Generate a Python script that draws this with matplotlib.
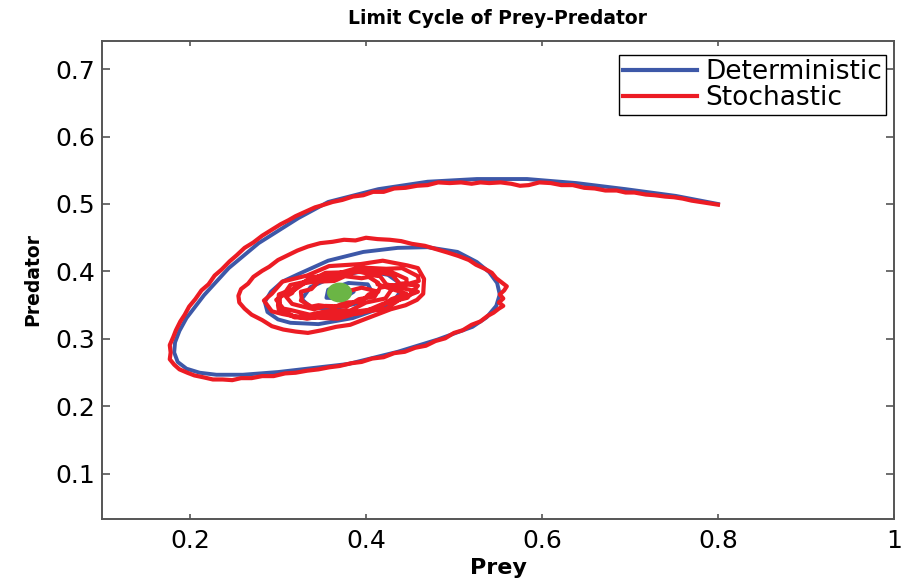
import matplotlib
matplotlib.use('Agg')
import matplotlib.pyplot as plt
from matplotlib.path import Path
from matplotlib.transforms import Affine2D

# deterministic trajectory
det_prey = [0.800, 0.752, 0.695, 0.639, 0.583, 0.526, 0.470, 0.414, 0.357, 0.323,
            0.278, 0.244, 0.216, 0.196, 0.188, 0.183, 0.182, 0.186, 0.196, 0.211,
            0.230, 0.260, 0.300, 0.340, 0.380, 0.436, 0.481, 0.521, 0.537, 0.548,
            0.552, 0.549, 0.540, 0.526, 0.504, 0.470, 0.436, 0.397, 0.357, 0.323,
            0.305, 0.292, 0.285, 0.288, 0.300, 0.314, 0.346, 0.385, 0.419, 0.432,
            0.439, 0.437, 0.425, 0.408, 0.391, 0.363, 0.337, 0.327, 0.338, 0.363,
            0.391, 0.408, 0.402, 0.380, 0.357, 0.355, 0.374, 0.386, 0.370]
det_pred = [0.500, 0.512, 0.522, 0.531, 0.537, 0.537, 0.533, 0.522, 0.503, 0.479,
            0.442, 0.405, 0.365, 0.331, 0.312, 0.295, 0.280, 0.266, 0.256, 0.250,
            0.247, 0.247, 0.251, 0.257, 0.263, 0.281, 0.299, 0.318, 0.332, 0.349,
            0.366, 0.383, 0.399, 0.414, 0.429, 0.436, 0.435, 0.429, 0.416, 0.396,
            0.385, 0.370, 0.355, 0.340, 0.329, 0.324, 0.322, 0.331, 0.347, 0.357,
            0.370, 0.384, 0.395, 0.399, 0.399, 0.392, 0.377, 0.359, 0.346, 0.345,
            0.353, 0.367, 0.381, 0.383, 0.373, 0.361, 0.360, 0.370, 0.370]

# stochastic trajectory: outer arc, then the tangle
sto_prey = [0.800, 0.790, 0.780, 0.770, 0.760, 0.750, 0.740, 0.728, 0.718, 0.705,
            0.695, 0.685, 0.672, 0.660, 0.648, 0.635, 0.622, 0.610, 0.597, 0.585,
            0.575, 0.565, 0.553, 0.540, 0.530, 0.520, 0.508, 0.495, 0.482, 0.470,
            0.458, 0.445, 0.432, 0.420, 0.408, 0.397, 0.385, 0.373, 0.362, 0.350,
            0.342, 0.330, 0.320, 0.312, 0.303, 0.292, 0.282, 0.272, 0.262, 0.253,
            0.245, 0.236, 0.228, 0.221, 0.213, 0.206, 0.199, 0.194, 0.189, 0.184,
            0.181, 0.177, 0.178, 0.177, 0.182, 0.188, 0.197, 0.205, 0.216, 0.226,
            0.237, 0.248, 0.258, 0.270, 0.282, 0.295, 0.308, 0.320, 0.333, 0.346,
            0.358, 0.370, 0.383, 0.395, 0.407, 0.420, 0.432, 0.444, 0.456, 0.468,
            0.479, 0.490, 0.500, 0.510, 0.520, 0.530, 0.538, 0.545, 0.551, 0.556,
            0.551, 0.556, 0.552, 0.557, 0.560, 0.555, 0.548, 0.543, 0.535, 0.525,
            0.517, 0.505, 0.493, 0.480, 0.467, 0.452, 0.440, 0.427, 0.413, 0.400,
            0.388, 0.375, 0.362, 0.348, 0.334, 0.322, 0.311, 0.300, 0.290, 0.282,
            0.272, 0.266, 0.258, 0.255, 0.256, 0.262, 0.270, 0.282, 0.293, 0.306,
            0.320, 0.334, 0.350, 0.366, 0.382, 0.398, 0.414, 0.428, 0.445, 0.458,
            0.465,
            0.466, 0.459, 0.447, 0.419, 0.394, 0.358, 0.333, 0.305, 0.293, 0.284,
            0.293, 0.305, 0.333, 0.358, 0.394, 0.419, 0.447, 0.459,
            0.438, 0.430, 0.422, 0.400, 0.382, 0.354, 0.336, 0.314, 0.306, 0.298,
            0.306, 0.314, 0.336, 0.354, 0.382, 0.400, 0.422, 0.430,
            0.460, 0.459, 0.441, 0.423, 0.392, 0.368, 0.337, 0.319, 0.301, 0.300,
            0.301, 0.319, 0.337, 0.368, 0.392, 0.423, 0.441, 0.459,
            0.423, 0.416, 0.410, 0.392, 0.378, 0.354, 0.341, 0.322, 0.316, 0.309,
            0.316, 0.322, 0.341, 0.354, 0.378, 0.392, 0.410, 0.416,
            0.446, 0.446, 0.429, 0.413, 0.385, 0.363, 0.335, 0.319, 0.302, 0.302,
            0.302, 0.319, 0.335, 0.363, 0.385, 0.413, 0.429, 0.446,
            0.413, 0.414, 0.403, 0.395, 0.376, 0.364, 0.346, 0.338, 0.326, 0.327,
            0.326, 0.338, 0.346, 0.364, 0.376, 0.395, 0.403, 0.414,
            0.395, 0.380, 0.370]
sto_pred = [0.499, 0.501, 0.503, 0.505, 0.508, 0.510, 0.511, 0.513, 0.514, 0.517,
            0.517, 0.520, 0.520, 0.523, 0.524, 0.528, 0.528, 0.531, 0.532, 0.528,
            0.527, 0.530, 0.532, 0.531, 0.532, 0.530, 0.532, 0.531, 0.532, 0.528,
            0.527, 0.524, 0.523, 0.518, 0.518, 0.513, 0.511, 0.506, 0.503, 0.498,
            0.495, 0.488, 0.482, 0.476, 0.470, 0.461, 0.453, 0.443, 0.435, 0.424,
            0.415, 0.403, 0.394, 0.381, 0.372, 0.359, 0.348, 0.336, 0.326, 0.313,
            0.303, 0.291, 0.280, 0.270, 0.262, 0.255, 0.250, 0.246, 0.243, 0.240,
            0.240, 0.239, 0.242, 0.242, 0.245, 0.245, 0.249, 0.250, 0.253, 0.255,
            0.258, 0.260, 0.264, 0.266, 0.271, 0.273, 0.279, 0.281, 0.287, 0.290,
            0.297, 0.301, 0.309, 0.313, 0.321, 0.326, 0.334, 0.339, 0.345, 0.349,
            0.354, 0.360, 0.366, 0.372, 0.378, 0.383, 0.390, 0.398, 0.404, 0.410,
            0.417, 0.423, 0.428, 0.433, 0.438, 0.441, 0.445, 0.447, 0.448, 0.450,
            0.446, 0.447, 0.444, 0.442, 0.437, 0.431, 0.424, 0.417, 0.407, 0.401,
            0.392, 0.382, 0.374, 0.364, 0.354, 0.345, 0.336, 0.328, 0.319, 0.314,
            0.311, 0.309, 0.313, 0.318, 0.321, 0.329, 0.337, 0.344, 0.350, 0.358,
            0.367,
            0.389, 0.405, 0.409, 0.416, 0.411, 0.408, 0.394, 0.385, 0.367, 0.357,
            0.341, 0.337, 0.330, 0.336, 0.338, 0.352, 0.361, 0.379,
            0.382, 0.395, 0.397, 0.404, 0.399, 0.398, 0.386, 0.380, 0.365, 0.358,
            0.345, 0.343, 0.336, 0.341, 0.342, 0.354, 0.360, 0.375,
            0.386, 0.393, 0.405, 0.404, 0.406, 0.397, 0.391, 0.375, 0.366, 0.350,
            0.343, 0.332, 0.332, 0.330, 0.339, 0.345, 0.361, 0.370,
            0.381, 0.393, 0.394, 0.400, 0.396, 0.396, 0.385, 0.381, 0.368, 0.363,
            0.352, 0.350, 0.344, 0.349, 0.348, 0.359, 0.363, 0.376,
            0.383, 0.389, 0.399, 0.398, 0.401, 0.392, 0.387, 0.373, 0.365, 0.349,
            0.344, 0.333, 0.334, 0.331, 0.340, 0.345, 0.359, 0.367,
            0.381, 0.383, 0.392, 0.390, 0.393, 0.386, 0.385, 0.374, 0.370, 0.359,
            0.357, 0.348, 0.350, 0.347, 0.354, 0.355, 0.366, 0.370,
            0.376, 0.371, 0.370]

eq_prey = [0.3695]
eq_pred = [0.370]

x_ticks = [0.2, 0.4, 0.6, 0.8, 1.0]
x_ticklabels = ['0.2', '0.4', '0.6', '0.8', '1']
y_ticks = [0.1, 0.2, 0.3, 0.4, 0.5, 0.6, 0.7]
y_ticklabels = ['0.1', '0.2', '0.3', '0.4', '0.5', '0.6', '0.7']

plt.rcParams['font.family'] = 'DejaVu Sans'

fig = plt.figure(figsize=(9.02, 5.80), dpi=100)
ax = fig.add_axes([0.1131, 0.1052, 0.8780, 0.8241])

ax.plot(det_prey, det_pred, color='#3d58a8', linewidth=2.8, label='Deterministic',
        solid_joinstyle='round')
ax.plot(sto_prey, sto_pred, color='#ec1c24', linewidth=3.0, label='Stochastic',
        solid_joinstyle='round')

# slightly flattened dot, as in the picture
dot = Path.unit_circle().transformed(Affine2D().scale(1.0, 0.78))
ax.plot(eq_prey, eq_pred, linestyle='none', marker=dot, markersize=17,
        color='#6bb545')

ax.set_xlim(0.1, 1.0)
ax.set_ylim(0.0333, 0.7415)
ax.set_xticks(x_ticks)
ax.set_xticklabels(x_ticklabels)
ax.set_yticks(y_ticks)
ax.set_yticklabels(y_ticklabels)

ax.tick_params(axis='both', direction='in', top=True, right=True,
               labelsize=18, color='#555555', width=1.2)
ax.tick_params(axis='x', length=3.5, pad=7)
ax.tick_params(axis='y', length=5.5, pad=5)
for sp in ax.spines.values():
    sp.set_color('#555555')
    sp.set_linewidth(1.4)

ax.set_xlabel('Prey', fontsize=16, fontweight='bold', labelpad=4)
ax.set_ylabel('Predator', fontsize=13.5, fontweight='bold', labelpad=9)
ax.set_title('Limit Cycle of Prey-Predator', fontsize=13.5, fontweight='bold', pad=12)

leg = ax.legend(loc='upper right', bbox_to_anchor=(0.99, 0.971), borderaxespad=0,
                fontsize=19, handlelength=2.8, handletextpad=0.3, borderpad=0.15,
                labelspacing=0.0, fancybox=False, framealpha=1)
leg.get_frame().set_edgecolor('black')
leg.get_frame().set_linewidth(1.0)
for line in leg.get_lines():
    line.set_linewidth(3.0)

fig.savefig('out.png', dpi=100)
